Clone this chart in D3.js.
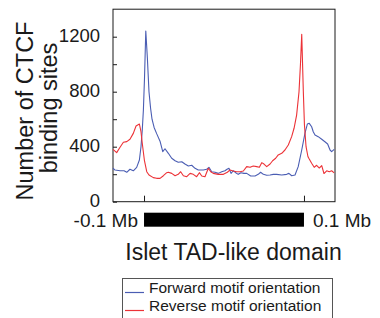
<!DOCTYPE html>
<html>
<head>
<meta charset="utf-8">
<script src="https://cdn.jsdelivr.net/npm/d3@7"></script>
<style>
html,body{margin:0;padding:0;background:#fff;}
svg{display:block;font-family:"Liberation Sans",Arial,Helvetica,sans-serif;}
</style>
</head>
<body>
<svg id="chart" width="380" height="318"></svg>
<script>
// Position along the domain: 0 = TAD start, 100 = TAD end (percent of domain length)
const forwardPos = [-19.4,-18.1,-15,-12.5,-10.8,-8.8,-6.7,-4.6,-2.9,-1.9,-1.1,-0.4,0.3,1.1,2.1,3.1,4.1,5,6.3,7.9,10,11.7,13.1,15.2,17.3,19.4,21.4,23.6,25.6,27.7,29.8,31.9,33.9,37.1,39.2,40.6,42.3,44.4,46.4,48.6,50.6,51.9,53.1,54.4,55.8,57.3,58.9,60.6,62.5,64.2,66.7,69.4,71.4,72.9,74.6,76.7,78.8,80.8,82.9,86.1,89.2,90.6,92.3,94.4,96.4,98.6,100.6,102.1,103.3,104.8,105.8,106.9,108.9,111.1,113.1,114.8,116.3,117.3,118.9];
const forwardVal = [243,230,225,225,214,236,225,250,303,400,521,667,900,1241,1043,800,680,600,540,495,440,364,385,352,316,298,287,291,274,260,265,243,231,231,236,250,218,214,206,218,225,236,243,206,225,211,199,211,206,206,187,187,199,214,199,192,194,199,199,194,199,206,189,194,255,376,497,565,570,545,509,485,473,454,436,420,376,364,381];
const reversePos = [-19.4,-17.1,-15,-12.9,-10.8,-8.8,-6.7,-5,-2.9,-1.9,-1.1,0.2,1.7,3.1,5.8,7.9,10,12.1,14.2,15.2,17.3,19.4,21.4,22.9,24.6,26.7,28.8,30.8,32.9,34.6,36.1,38.1,40.2,41.7,43.3,46.4,49.6,52.1,53.8,55.8,57.9,60,62.1,64.2,66.3,68.3,70.4,72.1,73.6,75,76.7,78.8,80.4,82.3,83.9,86.1,88.1,90.2,92.3,93.8,95.4,96.9,97.8,98.6,99.6,100.3,101.3,102.5,103.3,104.8,106.4,107.9,109.6,111.1,112.5,114.2,115.8,117.3,118.9];
const reverseVal = [381,357,396,432,437,454,497,551,565,509,425,303,218,194,175,170,170,189,211,214,206,189,199,218,189,182,206,199,182,211,187,182,243,218,206,199,199,214,231,223,218,218,223,255,250,260,255,250,284,274,255,274,298,316,340,352,376,412,473,534,630,800,1000,1217,800,558,400,327,310,280,250,265,245,262,205,225,218,225,210];
const yMajorTicks = [0,400,800,1200];
const yMinorTicks = [200,600,1000];
const xTickPos = [0,100];
const xTickLabels = ["-0.1 Mb","0.1 Mb"];
const seriesNames = ["Forward motif orientation","Reverse motif orientation"];
const seriesColors = ["#4a5db3","#ec3237"];

const svg = d3.select("#chart");
const L = 113, R = 335, T = 9.2, B = 201.7;
const x = d3.scaleLinear().domain([-19.4,119.4]).range([L,R]);
const y = d3.scaleLinear().domain([0,1400]).range([B,T]);
const ink = "#1a1a1a";

// frame
svg.append("rect").attr("x",L).attr("y",T).attr("width",R-L).attr("height",B-T)
  .attr("fill","none").attr("stroke",ink).attr("stroke-width",1);

// y ticks (inward)
const yAxis = d3.axisLeft(y).tickValues(yMajorTicks.concat(yMinorTicks)).tickSize(-4).tickFormat("");
const ga = svg.append("g").attr("transform",`translate(${L},0)`).call(yAxis);
ga.select(".domain").remove();
ga.selectAll("line").attr("stroke",ink);
svg.append("g").selectAll("text").data(yMajorTicks).join("text")
  .attr("x",100).attr("y",d=>y(d)+5.5).attr("text-anchor","end")
  .attr("font-size",18.5).attr("fill",ink).text(d=>d);

// x ticks (inward)
const xAxis = d3.axisBottom(x).tickValues(xTickPos).tickSize(-6).tickFormat("");
const gx = svg.append("g").attr("transform",`translate(0,${B})`).call(xAxis);
gx.select(".domain").remove();
gx.selectAll("line").attr("stroke",ink);

// domain bar and labels
svg.append("rect").attr("x",x(xTickPos[0])).attr("y",212.7)
  .attr("width",x(xTickPos[1])-x(xTickPos[0])).attr("height",14).attr("fill","#000");
svg.append("text").attr("x",x(xTickPos[0])-6).attr("y",226.5).attr("text-anchor","end")
  .attr("font-size",19).attr("fill",ink).text(xTickLabels[0]);
svg.append("text").attr("x",x(xTickPos[1])+9).attr("y",226.5).attr("text-anchor","start")
  .attr("font-size",19).attr("fill",ink).text(xTickLabels[1]);

// axis titles
svg.append("text").attr("x",233.5).attr("y",260).attr("text-anchor","middle")
  .attr("font-size",23).attr("fill",ink).text("Islet TAD-like domain");
svg.append("text").attr("transform","translate(33,111) rotate(-90)").attr("text-anchor","middle")
  .attr("font-size",23.5).attr("fill",ink).text("Number of CTCF");
svg.append("text").attr("transform","translate(57,108) rotate(-90)").attr("text-anchor","middle")
  .attr("font-size",23.5).attr("fill",ink).text("binding sites");

// lines
const line = d3.line().x(d=>x(d[0])).y(d=>y(d[1]));
const series = [d3.zip(forwardPos,forwardVal), d3.zip(reversePos,reverseVal)];
svg.append("g").selectAll("path").data(series).join("path")
  .attr("d",line).attr("fill","none")
  .attr("stroke",(d,i)=>seriesColors[i]).attr("stroke-width",1.1).attr("stroke-linejoin","round");

// legend
svg.append("rect").attr("x",122.5).attr("y",278.5).attr("width",210).attr("height",60)
  .attr("fill","none").attr("stroke","#555").attr("stroke-width",1);
const legendY = [292.5, 310.5];
seriesNames.forEach((name,i)=>{
  svg.append("line").attr("x1",125).attr("x2",144).attr("y1",legendY[i]).attr("y2",legendY[i])
    .attr("stroke",seriesColors[i]).attr("stroke-width",1.2);
  svg.append("text").attr("x",149).attr("y",legendY[i]).attr("font-size",15.5)
    .attr("fill",ink).text(name);
});
</script>
</body>
</html>
